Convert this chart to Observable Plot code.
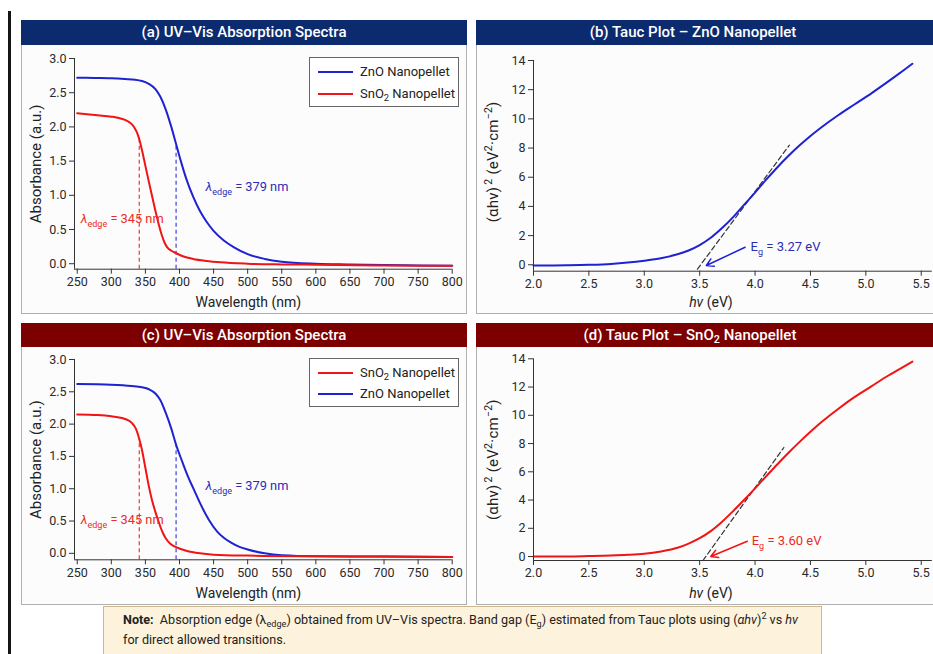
<!DOCTYPE html>
<html><head><meta charset="utf-8">
<script src="https://cdn.jsdelivr.net/npm/d3@7"></script>
<script src="https://cdn.jsdelivr.net/npm/@observablehq/plot@0.6"></script>
<style>
html,body{margin:0;padding:0;background:#fff;}
body{width:933px;height:654px;overflow:hidden;position:relative;font-family:Roboto,"Noto Sans",sans-serif;color:#222;}
.bar{position:absolute;left:8px;top:11px;width:3px;height:660px;background:#151515;}
.panel{position:absolute;border:1px solid #b0b0b0;background:#fcfcfc;box-sizing:border-box;}
.hdr{position:absolute;color:#fff;font-size:15px;font-weight:500;text-align:center;box-sizing:border-box;}
.navy{background:#0b2b6e;}
.maroon{background:#7d0000;}
.slot{position:absolute;}
.slot svg{max-width:none !important;}
.legend{position:absolute;background:#fff;border:1px solid #666;box-sizing:border-box;font-size:13px;color:#222;}
.legend .row{position:absolute;left:8px;height:20px;line-height:20px;white-space:nowrap;}
.legend .sw{display:inline-block;width:35px;height:2px;vertical-align:middle;margin-right:7px;position:relative;top:-1px;}
.note{position:absolute;left:103px;top:606px;width:719px;height:60px;background:#fdf3dc;border:1px solid #cdb98f;box-sizing:border-box;padding:3px 0 0 19px;font-size:12.6px;line-height:20px;color:#222;}
sub{font-size:0.72em;line-height:0;vertical-align:-0.3em;}
sup{font-size:0.72em;line-height:0;}
</style>
</head>
<body>
<div class="bar"></div>

<div class="panel" style="left:21px;top:20px;width:446px;height:294px;"></div>
<div class="panel" style="left:476px;top:20px;width:470px;height:294px;"></div>
<div class="panel" style="left:21px;top:323px;width:446px;height:282px;"></div>
<div class="panel" style="left:476px;top:323px;width:470px;height:282px;"></div>

<div class="hdr navy" style="left:21px;top:20px;width:446px;height:25px;line-height:25px;">(a) UV–Vis Absorption Spectra</div>
<div class="hdr navy" style="left:476px;top:20px;width:470px;height:25px;line-height:25px;padding-right:36px;">(b) Tauc Plot – ZnO Nanopellet</div>
<div class="hdr maroon" style="left:21px;top:323px;width:446px;height:24px;line-height:24px;">(c) UV–Vis Absorption Spectra</div>
<div class="hdr maroon" style="left:476px;top:323px;width:470px;height:24px;line-height:24px;padding-right:42px;">(d) Tauc Plot – SnO<sub>2</sub> Nanopellet</div>

<div class="slot" id="pa" style="left:21px;top:45px;width:446px;height:269px;"></div>
<div class="slot" id="pb" style="left:476px;top:45px;width:470px;height:269px;"></div>
<div class="slot" id="pc" style="left:21px;top:347px;width:446px;height:258px;"></div>
<div class="slot" id="pd" style="left:476px;top:347px;width:470px;height:258px;"></div>

<div class="legend" style="left:309px;top:57px;width:150px;height:50px;">
  <div class="row" style="top:4px;"><span class="sw" style="background:#1f22d0"></span>ZnO Nanopellet</div>
  <div class="row" style="top:26px;"><span class="sw" style="background:#f01414"></span>SnO<sub>2</sub> Nanopellet</div>
</div>
<div class="legend" style="left:309px;top:358px;width:150px;height:49px;">
  <div class="row" style="top:4px;"><span class="sw" style="background:#f01414"></span>SnO<sub>2</sub> Nanopellet</div>
  <div class="row" style="top:25px;"><span class="sw" style="background:#1f22d0"></span>ZnO Nanopellet</div>
</div>

<div class="note"><b>Note:</b>&nbsp; Absorption edge (λ<sub>edge</sub>) obtained from UV–Vis spectra. Band gap (E<sub>g</sub>) estimated from Tauc plots using (<i>αhν</i>)<sup>2</sup> vs <i>hν</i><br>for direct allowed transitions.</div>

<script>
// ---------------- DATA ----------------
// tick labels
const wlTicks = [250, 300, 350, 400, 450, 500, 550, 600, 650, 700, 750, 800];
const absTicks = [0.0, 0.5, 1.0, 1.5, 2.0, 2.5, 3.0];
const evTicks = [2.0, 2.5, 3.0, 3.5, 4.0, 4.5, 5.0, 5.5];
const taucTicks = [0, 2, 4, 6, 8, 10, 12, 14];

// (a) UV-Vis spectra
const wlA_ZnO  = [250, 275, 300, 320, 335, 345, 355, 365, 372, 380, 388, 395, 402, 410, 420, 430, 440, 450, 465, 480, 500, 525, 550, 600, 650, 700, 750, 800];
const absA_ZnO = [2.72, 2.715, 2.71, 2.70, 2.69, 2.67, 2.63, 2.55, 2.44, 2.25, 2.00, 1.75, 1.50, 1.24, 0.98, 0.77, 0.61, 0.48, 0.34, 0.24, 0.14, 0.07, 0.03, 0.0, -0.01, -0.02, -0.025, -0.03];
const wlA_SnO2  = [250, 280, 300, 315, 323, 330, 335, 338, 341, 345, 350, 355, 360, 365, 370, 374, 378, 382, 388, 395, 405, 420, 440, 460, 500, 550, 600, 700, 800];
const absA_SnO2 = [2.20, 2.17, 2.15, 2.12, 2.09, 2.04, 1.97, 1.91, 1.82, 1.66, 1.43, 1.20, 0.98, 0.76, 0.56, 0.42, 0.31, 0.24, 0.19, 0.155, 0.11, 0.07, 0.04, 0.02, 0.0, -0.01, -0.015, -0.025, -0.03];
const edgeA_wl  = [341, 395];
const edgeA_top = [1.82, 1.75];
const edgeA_series = ["SnO2", "ZnO"];
const labelA = [{series: "ZnO", x: 438, y: 1.12, value: "379 nm"}, {series: "SnO2", x: 255, y: 0.66, value: "345 nm"}];

// (c) UV-Vis spectra
const wlC_ZnO  = [250, 300, 330, 345, 355, 365, 372, 380, 388, 395, 404, 412, 421, 430, 443, 455, 465, 475, 488, 500, 525, 550, 600, 700, 800];
const absC_ZnO = [2.62, 2.61, 2.59, 2.57, 2.54, 2.47, 2.37, 2.17, 1.93, 1.68, 1.42, 1.20, 0.99, 0.78, 0.52, 0.34, 0.24, 0.17, 0.10, 0.06, 0.0, -0.03, -0.045, -0.05, -0.055];
const wlC_SnO2  = [250, 280, 300, 320, 330, 336, 341, 345, 350, 355, 360, 365, 369, 375, 380, 387, 395, 410, 430, 450, 500, 600, 700, 800];
const absC_SnO2 = [2.15, 2.14, 2.12, 2.08, 2.02, 1.93, 1.77, 1.60, 1.32, 1.04, 0.81, 0.63, 0.50, 0.33, 0.23, 0.145, 0.095, 0.04, 0.0, -0.02, -0.035, -0.045, -0.05, -0.055];
const edgeC_wl  = [341, 395];
const edgeC_top = [1.77, 1.68];
const edgeC_series = ["SnO2", "ZnO"];
const labelC = [{series: "ZnO", x: 438, y: 1.05, value: "379 nm"}, {series: "SnO2", x: 255, y: 0.52, value: "345 nm"}];

// (b) Tauc ZnO
const evB  = [2.0, 2.3, 2.5, 2.7, 2.85, 3.0, 3.15, 3.3, 3.4, 3.5, 3.6, 3.7, 3.8, 3.9, 4.0, 4.1, 4.2, 4.3, 4.4, 4.5, 4.6, 4.75, 4.9, 5.05, 5.2, 5.3, 5.42];
const taucB = [-0.05, -0.03, 0.0, 0.06, 0.15, 0.28, 0.45, 0.72, 0.98, 1.35, 1.85, 2.5, 3.25, 4.1, 4.95, 5.83, 6.67, 7.45, 8.17, 8.83, 9.43, 10.25, 11.0, 11.75, 12.55, 13.1, 13.78];
const tangentB_ev = [3.48, 4.31];
const tangentB_val = [-0.3, 8.2];
const arrowB = {x1: 3.91, y1: 1.2, x2: 3.56, y2: -0.05};
const labelB = {x: 3.96, y: 1.25, value: "3.27 eV"};

// (d) Tauc SnO2
const evD  = [2.0, 2.3, 2.5, 2.7, 2.85, 3.0, 3.15, 3.3, 3.4, 3.5, 3.6, 3.7, 3.8, 3.9, 4.0, 4.1, 4.2, 4.3, 4.4, 4.5, 4.6, 4.75, 4.9, 5.05, 5.2, 5.3, 5.42];
const taucD = [0.0, 0.0, 0.03, 0.07, 0.12, 0.2, 0.36, 0.62, 0.92, 1.3, 1.8, 2.45, 3.2, 4.0, 4.83, 5.68, 6.52, 7.33, 8.1, 8.83, 9.52, 10.45, 11.3, 12.05, 12.8, 13.25, 13.8];
const tangentD_ev = [3.53, 4.26];
const tangentD_val = [-0.28, 7.72];
const arrowD = {x1: 3.93, y1: 1.08, x2: 3.60, y2: 0.0};
const labelD = {x: 3.97, y: 1.08, value: "3.60 eV"};

// ---------------- STYLE ----------------
const BLUE = "#1f22d0", RED = "#f01414";
const BLUE_TXT = "#2a2db4", RED_TXT = "#ec2b26";
const colorOf = s => s === "ZnO" ? BLUE : RED;
const txtColorOf = s => s === "ZnO" ? BLUE_TXT : RED_TXT;
const AX = "#333";
const svgStyle = {fontFamily: "Roboto, 'Noto Sans', sans-serif", fontSize: "12.5px", color: "#2a2a2a", background: "transparent", overflow: "visible", maxWidth: "none"};

const zip = (xs, ys) => xs.map((x, i) => ({x, y: ys[i]}));

function rich(svg, cls, htmls) {
  svg.querySelectorAll(`g.${cls} text`).forEach((t, i) => { t.innerHTML = htmls[i]; });
}
const edgeHTML = v => `<tspan font-style="italic">λ</tspan><tspan dy="4" font-size="9">edge</tspan><tspan dy="-4"> = ${v}</tspan>`;
const egHTML = v => `<tspan>E</tspan><tspan dy="4" font-size="9">g</tspan><tspan dy="-4"> = ${v}</tspan>`;

function absPlot(o) {
  const edges = o.edgeWl.map((wl, i) => ({x: wl, top: o.edgeTop[i], series: o.edgeSeries[i]}));
  const ymin = o.yDomain[0];
  const svg = Plot.plot({
    width: 446, height: o.height,
    marginLeft: 53, marginRight: 15.3, marginTop: o.marginTop, marginBottom: o.marginBottom,
    style: svgStyle,
    x: {domain: [246, 800]},
    y: {domain: o.yDomain},
    marks: [
      Plot.ruleX(edges, {x: "x", y1: () => ymin, y2: "top", stroke: d => colorOf(d.series), strokeWidth: 1.2, strokeDasharray: "4,3", strokeOpacity: 0.85}),
      ...o.series.map(s => Plot.line(zip(s.x, s.y), {x: "x", y: "y", stroke: colorOf(s.name), strokeWidth: 2, curve: "monotone-x"})),
      Plot.text(o.labels, {x: "x", y: "y", text: d => d.value, textAnchor: "start", fill: d => txtColorOf(d.series), fontSize: 12.8, className: o.cls}),
      Plot.ruleX([246], {stroke: AX}),
      Plot.ruleY([ymin], {stroke: AX}),
      Plot.axisX(wlTicks, {tickSize: 5, tickPadding: 3, label: null, stroke: AX, fontSize: 12.5}),
      Plot.axisY(absTicks, {tickSize: 5, tickPadding: 3, label: null, tickFormat: d3.format(".1f"), stroke: AX, fontSize: 12.5}),
      Plot.text(["Wavelength (nm)"], {frameAnchor: "bottom", lineAnchor: "middle", textAnchor: "middle", dy: o.xLabelDy, dx: -15, fontSize: 14, fill: "#222"}),
      Plot.text(["Absorbance (a.u.)"], {frameAnchor: "left", lineAnchor: "middle", textAnchor: "middle", rotate: -90, dx: -38, dy: o.yLabelDy, fontSize: 15, fill: "#222"})
    ]
  });
  rich(svg, o.cls, o.labels.map(d => edgeHTML(d.value)));
  return svg;
}

function taucPlot(o) {
  const ymin = o.yDomain[0];
  const svg = Plot.plot({
    width: 470, height: o.height,
    marginLeft: 57, marginRight: 14.2, marginTop: o.marginTop, marginBottom: o.marginBottom,
    style: svgStyle,
    x: {domain: [2.0, 5.6]},
    y: {domain: o.yDomain},
    marks: [
      Plot.line(zip(o.tanX, o.tanY), {x: "x", y: "y", stroke: "#333", strokeWidth: 1.2, strokeDasharray: "5,3"}),
      Plot.line(zip(o.ev, o.val), {x: "x", y: "y", stroke: o.color, strokeWidth: 2, curve: "monotone-x"}),
      Plot.arrow([o.arrow], {x1: "x1", y1: "y1", x2: "x2", y2: "y2", stroke: o.color, strokeWidth: 1.5, headLength: 8}),
      Plot.text([o.label], {x: "x", y: "y", text: d => d.value, textAnchor: "start", fill: o.txtColor, fontSize: 13, className: o.cls}),
      Plot.ruleX([2.0], {stroke: AX}),
      Plot.ruleY([ymin], {stroke: AX}),
      Plot.axisX(evTicks, {tickSize: 5, tickPadding: 3, label: null, tickFormat: d3.format(".1f"), stroke: AX, fontSize: 12.5}),
      Plot.axisY(taucTicks, {tickSize: 5, tickPadding: 3, label: null, stroke: AX, fontSize: 12.5}),
      Plot.text(["hν (eV)"], {frameAnchor: "bottom", lineAnchor: "middle", textAnchor: "middle", dy: o.xLabelDy, dx: -22, fontSize: 14, fill: "#222", className: o.cls + "x"}),
      Plot.text(["(αhν)² (eV²·cm⁻²)"], {frameAnchor: "left", lineAnchor: "middle", textAnchor: "middle", rotate: -90, dx: -40, dy: o.yLabelDy, fontSize: 15, fill: "#222", className: o.cls + "y"})
    ]
  });
  rich(svg, o.cls, [egHTML(o.label.value)]);
  rich(svg, o.cls + "x", [`<tspan font-style="italic">hν</tspan> (eV)`]);
  rich(svg, o.cls + "y", [`(αhν)<tspan dx="2" dy="-6" font-size="10.5">2</tspan><tspan dy="6"> (eV</tspan><tspan dy="-6" font-size="10.5">2</tspan><tspan dy="6">·cm</tspan><tspan dy="-6" font-size="10.5">−2</tspan><tspan dy="6">)</tspan>`]);
  svg.querySelectorAll(`g.${o.cls}y text`).forEach(t => t.setAttribute("letter-spacing", "0.25"));
  return svg;
}

document.getElementById("pa").appendChild(absPlot({
  height: 269, marginTop: 13, marginBottom: 45.3, yDomain: [-0.08, 3.0],
  series: [{name: "ZnO", x: wlA_ZnO, y: absA_ZnO}, {name: "SnO2", x: wlA_SnO2, y: absA_SnO2}],
  edgeWl: edgeA_wl, edgeTop: edgeA_top, edgeSeries: edgeA_series, labels: labelA, cls: "lblA",
  xLabelDy: 33, yLabelDy: 0
}));
document.getElementById("pc").appendChild(absPlot({
  height: 258, marginTop: 12, marginBottom: 45.7, yDomain: [-0.1, 3.0],
  series: [{name: "ZnO", x: wlC_ZnO, y: absC_ZnO}, {name: "SnO2", x: wlC_SnO2, y: absC_SnO2}],
  edgeWl: edgeC_wl, edgeTop: edgeC_top, edgeSeries: edgeC_series, labels: labelC, cls: "lblC",
  xLabelDy: 33.5, yLabelDy: 0
}));
document.getElementById("pb").appendChild(taucPlot({
  height: 269, marginTop: 15, marginBottom: 43.3, yDomain: [-0.44, 14],
  ev: evB, val: taucB, tanX: tangentB_ev, tanY: tangentB_val, arrow: arrowB, label: labelB,
  color: BLUE, txtColor: BLUE_TXT, cls: "lblB", xLabelDy: 31, yLabelDy: -4
}));
document.getElementById("pd").appendChild(taucPlot({
  height: 258, marginTop: 11.3, marginBottom: 45, yDomain: [-0.28, 14],
  ev: evD, val: taucD, tanX: tangentD_ev, tanY: tangentD_val, arrow: arrowD, label: labelD,
  color: RED, txtColor: RED_TXT, cls: "lblD", xLabelDy: 33.3, yLabelDy: 0
}));
</script>
</body></html>
